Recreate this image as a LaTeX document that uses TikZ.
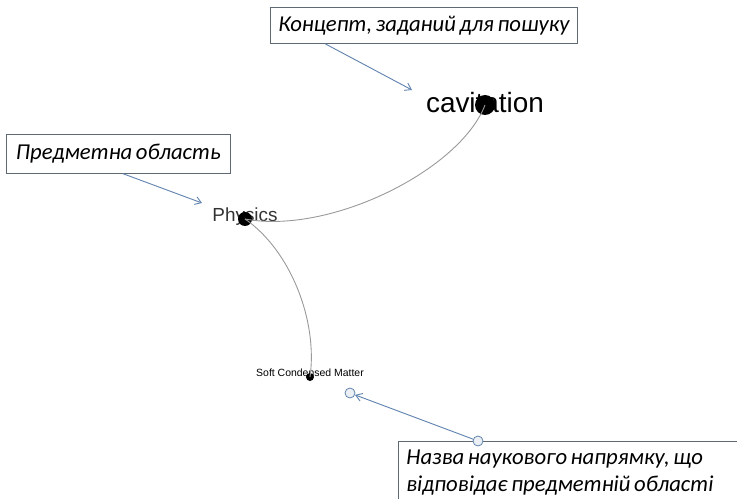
\documentclass[tikz,border=0pt]{standalone}
\usepackage{fontspec}
\setmainfont{Liberation Sans}
\newfontfamily\notefont{Carlito}[WordSpace=0.7]
\usetikzlibrary{arrows.meta}
\definecolor{arrowblue}{RGB}{95,130,175}
\definecolor{boxgray}{RGB}{95,105,115}
\begin{document}
\begin{tikzpicture}[x=1bp, y=-1bp,
  note/.style={draw=boxgray, line width=0.7bp, font=\notefont\itshape\fontsize{22.8}{27}\selectfont, inner xsep=8bp},
  pointer/.style={draw=arrowblue, line width=0.9bp, -{Straight Barb[length=6bp,width=8bp]}},
  pin/.style={circle, draw=arrowblue, fill=arrowblue!12, line width=0.8bp, minimum size=10bp, inner sep=0pt},
  link/.style={draw=black!40, line width=0.9bp},
  dot/.style={circle, fill=black, inner sep=0pt}]
  \useasboundingbox (0,0) rectangle (737,499);
  \clip (0,0) rectangle (737,499);
  % terms of the search
  \node[font=\fontsize{28}{30}\selectfont] (cavitation) at (485,103) {cavitation};
  \node[font=\fontsize{19}{21}\selectfont, text=black!80] (physics) at (245,217) {Physics};
  \node[font=\fontsize{10.5}{12}\selectfont] (softmatter) at (310,373) {Soft Condensed Matter};
  \node[dot, minimum size=20bp] (cavdot) at (485,105) {};
  \node[dot, minimum size=14bp] (physdot) at (245,219) {};
  \node[dot, minimum size=8bp] (softdot) at (310,377) {};
  \draw[link] (physdot.center) .. controls (330,235) and (460,170) .. (cavdot.center);
  \draw[link] (physdot.center) .. controls (290,250) and (318,320) .. (softdot.center);
  % callouts
  \node[note, minimum width=305bp, minimum height=36bp, anchor=north west] (goal) at (270,7) {Концепт, заданий для пошуку};
  \node[note, minimum width=224bp, minimum height=39bp, anchor=north west] (domain) at (6,134) {Предметна область};
  \node[note, anchor=north west, text width=340bp, inner ysep=9bp, align=flush left] (field) at (398,441) {Назва наукового напрямку, що\\відповідає предметній області};
  \coordinate (goaltip) at (412,90);
  \coordinate (domaintip) at (202,203);
  \draw[pointer] ([xshift=55bp]goal.south west) -- (goaltip);
  \draw[pointer] ([xshift=117bp]domain.south west) -- (domaintip);
  \node[pin] (fieldpin) at (478,441) {};
  \node[pin] (softpin) at (350,393) {};
  \draw[pointer] (fieldpin) -- (softpin);
\end{tikzpicture}
\end{document}
